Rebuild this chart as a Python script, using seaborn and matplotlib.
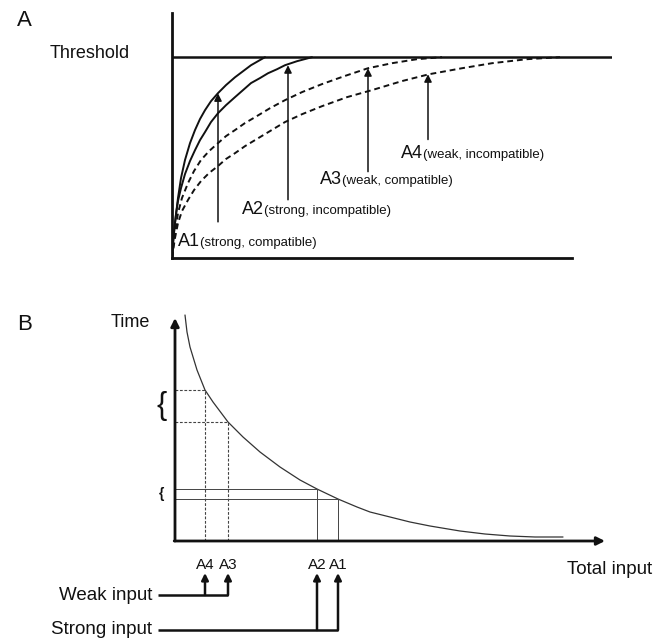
import matplotlib
matplotlib.use("Agg")
import matplotlib.pyplot as plt
import seaborn as sns

# ---- panel A : rise of the response towards threshold ----
a1_x = [0, 0.025, 0.075, 0.15, 0.225, 0.325, 0.45, 0.575, 0.7, 0.825, 0.975, 1.15,
        1.35, 1.575, 1.775, 1.975, 2.15, 2.325]
a1_y = [0, 0.075, 0.174, 0.299, 0.398, 0.488, 0.572, 0.637, 0.692, 0.736, 0.781, 0.821,
        0.861, 0.900, 0.930, 0.960, 0.980, 1.0]
a2_x = [0, 0.025, 0.05, 0.1, 0.15, 0.225, 0.325, 0.45, 0.575, 0.7, 0.825, 0.975, 1.15,
        1.35, 1.575, 1.775, 1.975, 2.2, 2.4, 2.625, 2.825, 3.125, 3.5]
a2_y = [0, 0.070, 0.129, 0.219, 0.284, 0.348, 0.418, 0.483, 0.537, 0.587, 0.627, 0.677, 0.721,
        0.761, 0.801, 0.836, 0.871, 0.896, 0.920, 0.940, 0.960, 0.980, 1.0]
a3_x = [0, 0.025, 0.075, 0.15, 0.25, 0.4, 0.55, 0.725, 0.925, 1.15, 1.35, 1.575, 1.825,
        2.075, 2.45, 2.825, 3.25, 3.75, 4.3, 4.9, 5.5, 6.125, 6.75]
a3_y = [0, 0.045, 0.124, 0.224, 0.299, 0.373, 0.433, 0.488, 0.532, 0.572, 0.607, 0.637, 0.672,
        0.701, 0.746, 0.786, 0.826, 0.866, 0.905, 0.945, 0.970, 0.990, 1.0]
a4_x = [0, 0.025, 0.075, 0.15, 0.25, 0.4, 0.55, 0.725, 0.925, 1.15, 1.35, 1.575, 1.825,
        2.075, 2.45, 2.825, 3.25, 3.75, 4.375, 5.0, 5.75, 6.425, 7.25, 8.0, 8.875, 9.7]
a4_y = [0, 0.035, 0.100, 0.174, 0.234, 0.289, 0.338, 0.383, 0.423, 0.458, 0.493, 0.522, 0.557,
        0.587, 0.632, 0.677, 0.716, 0.756, 0.801, 0.836, 0.881, 0.915, 0.945, 0.970, 0.990, 1.0]
threshold = 1.0

cond_names = ["A1", "A2", "A3", "A4"]
cond_notes = ["(strong, compatible)", "(strong, incompatible)",
              "(weak, compatible)", "(weak, incompatible)"]
arrow_x = [1.15, 2.9, 4.9, 6.4]
arrow_base = [0.18, 0.29, 0.43, 0.59]
arrow_tip = [0.82, 0.96, 0.945, 0.915]
label_x = [0.15, 1.75, 3.7, 5.72]
label_y = [0.058, 0.218, 0.368, 0.498]

# ---- panel B : time to threshold vs total input ----
b_x = [0.25, 0.3, 0.375, 0.55, 0.75, 0.95, 1.325, 1.7, 2.125, 2.625, 3.125, 3.55, 4.075,
       4.55, 4.875, 5.375, 5.875, 6.375, 7.125, 7.75, 8.375, 9.0, 9.7]
b_y = [5.65, 5.225, 4.85, 4.275, 3.775, 3.475, 2.975, 2.6, 2.225, 1.85, 1.525, 1.3, 1.05,
       0.85, 0.725, 0.6, 0.475, 0.375, 0.25, 0.175, 0.125, 0.1, 0.1]
b_names = ["A1", "A2", "A3", "A4"]
b_key_x = [4.075, 3.55, 1.325, 0.75]
b_key_y = [1.05, 1.3, 2.975, 3.775]

sns.set_theme(style="white")
plt.rcParams['font.family'] = ['Liberation Sans', 'DejaVu Sans']

W, H = 668, 642
fig = plt.figure(figsize=(W / 100, H / 100), dpi=100)

def box(l, t, r, b):
    return [l / W, 1 - b / H, (r - l) / W, (b - t) / H]

ink = "#111111"

# ================= panel A =================
axA = fig.add_axes(box(172, 13, 612, 258))
axA.set_xlim(0, 11)
axA.set_ylim(0, 1.22)
axA.set_xticks([])
axA.set_yticks([])
for s in ["top", "right"]:
    axA.spines[s].set_visible(False)
for s in ["left", "bottom"]:
    axA.spines[s].set_linewidth(2)
    axA.spines[s].set_color(ink)
axA.spines["bottom"].set_bounds(0, 10)

axA.axhline(threshold, color=ink, lw=1.8)
for xs, ys, ls in [(a1_x, a1_y, "-"), (a2_x, a2_y, "-"),
                   (a3_x, a3_y, (0, (3, 2))), (a4_x, a4_y, (0, (3, 2)))]:
    sns.lineplot(x=xs, y=ys, ax=axA, color=ink, lw=1.4, linestyle=ls,
                 sort=False, estimator=None)

for i in range(4):
    axA.annotate("", xy=(arrow_x[i], arrow_tip[i]), xytext=(arrow_x[i], arrow_base[i]),
                 arrowprops=dict(arrowstyle="-|>", color=ink, lw=1.1,
                                 mutation_scale=11, shrinkA=0, shrinkB=0))

renderer = fig.canvas.get_renderer()
for i in range(4):
    t = axA.text(label_x[i], label_y[i], cond_names[i], fontsize=13,
                 va="baseline", ha="left", color=ink)
    bb = t.get_window_extent(renderer)
    xr = axA.transData.inverted().transform((bb.x1, bb.y0))[0]
    axA.text(xr, label_y[i], cond_notes[i], fontsize=9.5, va="baseline",
             ha="left", color=ink)

fig.text(17 / W, 1 - 20 / H, "A", fontsize=16, va="center", ha="left", color=ink)
fig.text(50 / W, 1 - 53 / H, "Threshold", fontsize=13, va="center", ha="left", color=ink)

# ================= panel B =================
axB = fig.add_axes(box(175, 318, 605, 541))
axB.set_xlim(0, 10.75)
axB.set_ylim(0, 5.575)
axB.set_xticks([])
axB.set_yticks([])
for s in axB.spines.values():
    s.set_visible(False)

axes_arrow = dict(arrowstyle="-|>", color=ink, lw=2, mutation_scale=12, shrinkA=0, shrinkB=0)
axB.annotate("", xy=(0, 5.575), xytext=(0, 0), arrowprops=axes_arrow, annotation_clip=False)
axB.annotate("", xy=(10.75, 0), xytext=(-0.02, 0), arrowprops=axes_arrow, annotation_clip=False)

sns.lineplot(x=b_x, y=b_y, ax=axB, color="#333333", lw=0.9, sort=False,
             estimator=None, clip_on=False)

# guide lines: strong (solid) and weak (dashed)
axB.hlines(b_key_y[:2], 0, b_key_x[:2], color="#444444", lw=0.7)
axB.vlines(b_key_x[:2], 0, b_key_y[:2], color="#444444", lw=0.7)
axB.hlines(b_key_y[2:], 0, b_key_x[2:], color="#444444", lw=0.8, linestyles=(0, (2.5, 1.5)))
axB.vlines(b_key_x[2:], 0, b_key_y[2:], color="#444444", lw=0.8, linestyles=(0, (2.5, 1.5)))

axB.text(-0.33, (b_key_y[2] + b_key_y[3]) / 2, "{", fontsize=22, ha="center",
         va="center", color=ink, clip_on=False)
axB.text(-0.33, (b_key_y[0] + b_key_y[1]) / 2, "{", fontsize=10, ha="center",
         va="center", color=ink, clip_on=False, fontweight="bold")

# input labels and arrows below the axis
y_lab, y_tip, y_weak, y_strong = -0.6, -0.8, -1.35, -2.225
for name, kx in zip(b_names, b_key_x):
    axB.text(kx, y_lab, name, fontsize=11, ha="center", va="center", color=ink)

in_arrow = dict(arrowstyle="-|>", color=ink, lw=1.8, mutation_scale=10, shrinkA=0, shrinkB=0)
for kx in b_key_x[2:]:
    axB.annotate("", xy=(kx, y_tip), xytext=(kx, y_weak), arrowprops=in_arrow,
                 annotation_clip=False)
for kx in b_key_x[:2]:
    axB.annotate("", xy=(kx, y_tip), xytext=(kx, y_strong), arrowprops=in_arrow,
                 annotation_clip=False)
axB.hlines([y_weak], -0.425, max(b_key_x[2:]), color=ink, lw=1.8, clip_on=False)
axB.hlines([y_strong], -0.425, max(b_key_x[:2]), color=ink, lw=1.8, clip_on=False)
axB.text(-0.575, y_weak, "Weak input", fontsize=13.5, ha="right", va="center", color=ink)
axB.text(-0.575, y_strong, "Strong input", fontsize=13.5, ha="right", va="center", color=ink)

axB.text(9.8, -0.725, "Total input", fontsize=13.5, ha="left", va="center", color=ink)
axB.text(-0.625, 5.475, "Time", fontsize=13, ha="right", va="center", color=ink)
fig.text(17 / W, 1 - 325 / H, "B", fontsize=16, va="center", ha="left", color=ink)

fig.savefig("out.png", dpi=100, facecolor="white")
